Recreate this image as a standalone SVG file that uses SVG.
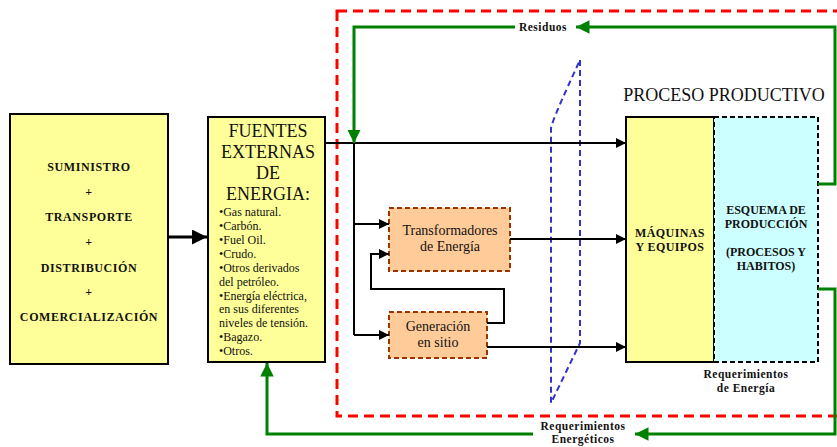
<svg xmlns="http://www.w3.org/2000/svg" width="837" height="447" viewBox="0 0 837 447">
<defs>
<style>
.box{stroke:#000;stroke-width:2}
.yel{fill:#FFFF99}
.cyan{fill:#CCFFFF;stroke:#000;stroke-width:2;stroke-dasharray:5 3}
.peach{fill:#FFCC99;stroke:#993300;stroke-width:2;stroke-dasharray:5 3}
.b{font-weight:bold;fill:#111;text-anchor:middle}
.r{fill:#111}
.blk{stroke:#000;stroke-width:2;fill:none}
.grn{stroke:#008000;stroke-width:3;fill:none}
.blue{stroke:#3333CC;stroke-width:2;fill:none;stroke-dasharray:6 4}
.red{stroke:#FF0000;stroke-width:3;fill:none;stroke-dasharray:10 6}
</style>
<marker id="ab" viewBox="0 0 10 10" refX="10" refY="5" markerWidth="5" markerHeight="5" orient="auto" markerUnits="strokeWidth"><path d="M0,0L10,5L0,10z" fill="#000"/></marker>
<marker id="ag" viewBox="0 0 10 10" refX="10" refY="5" markerWidth="4.5" markerHeight="4.5" orient="auto" markerUnits="strokeWidth"><path d="M0,0L10,5L0,10z" fill="#008000"/></marker>
</defs>
<g font-family="'Liberation Serif','DejaVu Serif',serif">
<rect class="red" x="337" y="11" width="520" height="405"/>

<g id="suministro">
<rect class="box yel" x="10" y="114" width="158" height="250"/>
<g class="b" font-size="12" letter-spacing="0.6">
<text x="89" y="171">SUMINISTRO</text>
<text x="89" y="196">+</text>
<text x="89" y="221">TRANSPORTE</text>
<text x="89" y="246">+</text>
<text x="89" y="272">DISTRIBUCIÓN</text>
<text x="89" y="296">+</text>
<text x="89" y="321">COMERCIALIZACIÓN</text>
</g>
</g>

<g id="fuentes">
<rect class="box yel" x="208" y="117" width="117" height="245"/>
<g class="r" font-size="18" text-anchor="middle">
<text x="268" y="137">FUENTES</text>
<text x="268" y="158">EXTERNAS</text>
<text x="268" y="179">DE</text>
<text x="268" y="200">ENERGIA:</text>
</g>
<g class="r" font-size="12">
<text x="219" y="216">•Gas natural.</text>
<text x="219" y="230">•Carbón.</text>
<text x="219" y="244">•Fuel Oil.</text>
<text x="219" y="258">•Crudo.</text>
<text x="219" y="272">•Otros derivados</text>
<text x="219" y="286">del petróleo.</text>
<text x="219" y="300">•Energía eléctrica,</text>
<text x="219" y="313">en sus diferentes</text>
<text x="219" y="327">niveles de tensión.</text>
<text x="219" y="341">•Bagazo.</text>
<text x="219" y="355">•Otros.</text>
</g>
</g>

<g id="transformadores">
<rect class="peach" x="389" y="208" width="121" height="63"/>
<g class="r" font-size="14" text-anchor="middle">
<text x="450" y="235">Transformadores</text>
<text x="450" y="251">de Energía</text>
</g>
</g>

<g id="generacion">
<rect class="peach" x="389" y="312" width="98" height="46"/>
<g class="r" font-size="14" text-anchor="middle">
<text x="438" y="331">Generación</text>
<text x="438" y="347">en sitio</text>
</g>
</g>

<g id="frontera">
<path class="blue" d="M580,60V343L551,403V128Q553,118 580,60"/>
</g>

<g id="proceso">
<text class="r" x="724" y="101" font-size="18" text-anchor="middle">PROCESO PRODUCTIVO</text>
<rect class="box yel" x="626" y="117" width="88" height="245"/>
<rect class="cyan" x="714" y="117" width="104" height="245"/>
<g class="b" font-size="12">
<text x="670" y="237" letter-spacing="0.4">MÁQUINAS</text>
<text x="670" y="251" letter-spacing="0.4">Y EQUIPOS</text>
<text x="766" y="214">ESQUEMA DE</text>
<text x="766" y="228">PRODUCCIÓN</text>
<text x="766" y="256">(PROCESOS Y</text>
<text x="766" y="270">HABITOS)</text>
</g>
</g>

<g id="etiquetas" class="b" font-size="11.5" letter-spacing="0.5">
<text x="543" y="31">Residuos</text>
<text x="746" y="378">Requerimientos</text>
<text x="746" y="392">de Energía</text>
<text x="583" y="430">Requerimientos</text>
<text x="583" y="443">Energéticos</text>
</g>

<g id="conectores">
<line x1="168" y1="237" x2="207" y2="237" stroke="#000" stroke-width="3" marker-end="url(#ab)"/>
<line class="blk" x1="325" y1="143" x2="626" y2="143" marker-end="url(#ab)"/>
<path class="blk" d="M354,143V335"/>
<line class="blk" x1="354" y1="224" x2="389" y2="224" marker-end="url(#ab)"/>
<line class="blk" x1="354" y1="335" x2="389" y2="335" marker-end="url(#ab)"/>
<path class="blk" d="M487,323H504V289H371V254H389" marker-end="url(#ab)"/>
<line class="blk" x1="510" y1="239" x2="626" y2="239" marker-end="url(#ab)"/>
<line class="blk" x1="487" y1="347" x2="626" y2="347" marker-end="url(#ab)"/>
<path class="grn" d="M818,184H835V27H576" marker-end="url(#ag)"/>
<path class="grn" d="M515,27H354V143" marker-end="url(#ag)"/>
<path class="grn" d="M818,289H835V434H635" marker-end="url(#ag)"/>
<path class="grn" d="M533,434H267V363" marker-end="url(#ag)"/>
</g>
</g>
</svg>
